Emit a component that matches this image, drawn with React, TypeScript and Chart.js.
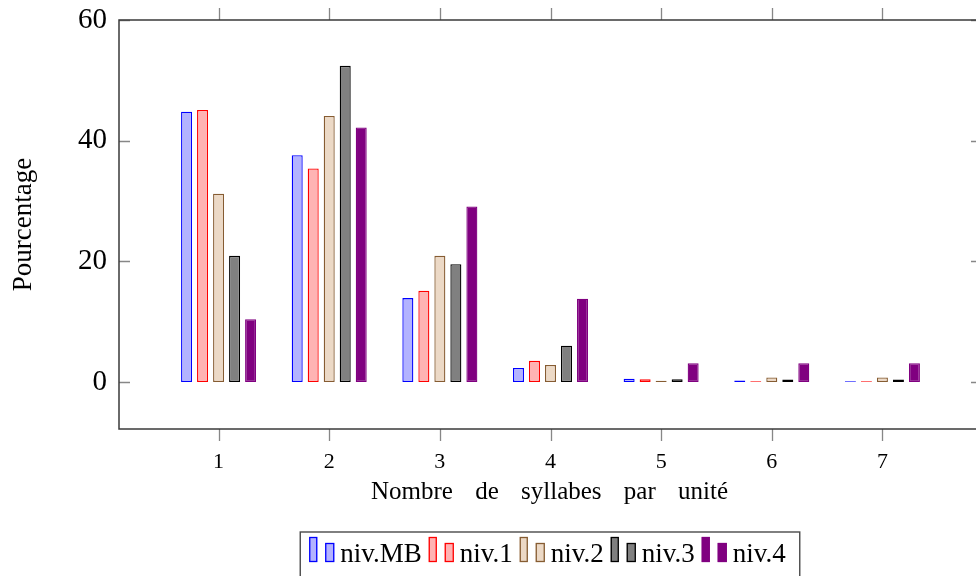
import React, { useEffect, useRef } from 'react';
import { Chart, registerables } from 'chart.js';

Chart.register(...registerables);

// ---- data ----
const categories = [1, 2, 3, 4, 5, 6, 7];
const seriesNames = ['niv.MB', 'niv.1', 'niv.2', 'niv.3', 'niv.4'];
const nivMB = [44.8, 37.6, 13.9, 2.3, 0.55, 0.25, 0.1];
const niv1 = [45.1, 35.4, 15.1, 3.5, 0.45, 0.1, 0.1];
const niv2 = [31.2, 44.1, 20.9, 2.8, 0.2, 0.75, 0.75];
const niv3 = [20.9, 52.4, 19.5, 6.0, 0.45, 0.4, 0.4];
const niv4 = [10.4, 42.2, 29.1, 13.8, 3.1, 3.1, 3.1];
const seriesValues = [nivMB, niv1, niv2, niv3, niv4];
const yTicks = [0, 20, 40, 60];
const xTitle = 'Nombre de syllabes par unité';
const yTitle = 'Pourcentage';

// ---- styles ----
const fills = ['rgb(179,179,255)', 'rgb(255,179,179)', 'rgb(236,217,198)', 'rgb(128,128,128)', 'rgb(128,0,128)'];
const borders = ['rgb(0,0,255)', 'rgb(255,0,0)', 'rgb(134,92,50)', 'rgb(0,0,0)', 'rgb(128,0,128)'];
const FONT = '"Liberation Serif", "Times New Roman", serif';

const decorPlugin = {
  id: 'decor',
  afterDraw(chart: any) {
    const { ctx, chartArea: ca, scales } = chart;
    const x = scales.x;
    const y = scales.y;
    ctx.save();
    // tick marks
    ctx.strokeStyle = 'rgba(105,105,105,0.8)';
    ctx.lineWidth = 1.3;
    ctx.beginPath();
    for (const v of yTicks) {
      const py = Math.round(y.getPixelForValue(v)) + 0.5;
      ctx.moveTo(ca.left, py);
      ctx.lineTo(ca.left + 11, py);
      ctx.moveTo(ca.right - 11, py);
      ctx.lineTo(ca.right, py);
    }
    for (const c of categories) {
      const px = Math.round(x.getPixelForValue(c)) + 0.5;
      ctx.moveTo(px, ca.top - 12);
      ctx.lineTo(px, ca.top);
      ctx.moveTo(px, ca.bottom);
      ctx.lineTo(px, ca.bottom + 12);
    }
    ctx.stroke();
    // axis box
    ctx.strokeStyle = '#3a3a3a';
    ctx.lineWidth = 1.5;
    ctx.strokeRect(ca.left, ca.top, ca.right - ca.left, ca.bottom - ca.top);

    // x title
    ctx.fillStyle = '#000';
    ctx.font = `25px ${FONT}`;
    ctx.textAlign = 'center';
    ctx.textBaseline = 'alphabetic';
    try { (ctx as any).wordSpacing = '16px'; } catch (e) {}
    ctx.fillText(xTitle, (ca.left + ca.right) / 2 - 1, 499);
    try { (ctx as any).wordSpacing = '0px'; } catch (e) {}

    // y title
    ctx.save();
    ctx.translate(31, (ca.top + ca.bottom) / 2);
    ctx.rotate(-Math.PI / 2);
    ctx.font = `27px ${FONT}`;
    ctx.textAlign = 'center';
    ctx.fillText(yTitle, 0, 0);
    ctx.restore();

    // legend
    ctx.font = `27px ${FONT}`;
    ctx.textAlign = 'left';
    const widths = seriesNames.map((n) => ctx.measureText(n).width);
    const gap = 7;
    const contentW = widths.reduce((a, w) => a + 31 + w, 0) + gap * (seriesNames.length - 1);
    let x0 = 547.5 - contentW / 2;
    const boxLeft = x0 - 9;
    const boxRight = x0 + contentW + 14;
    ctx.strokeStyle = '#4a4a4a';
    ctx.lineWidth = 1.4;
    ctx.strokeRect(boxLeft, 532, boxRight - boxLeft, 60);
    seriesNames.forEach((name, i) => {
      ctx.fillStyle = fills[i];
      ctx.strokeStyle = borders[i];
      ctx.lineWidth = 1.3;
      ctx.fillRect(x0, 537, 8, 25);
      ctx.strokeRect(x0 + 0.5, 537.5, 7, 24);
      ctx.fillRect(x0 + 16, 543, 9, 19);
      ctx.strokeRect(x0 + 16.5, 543.5, 8, 18);
      ctx.fillStyle = '#000';
      ctx.fillText(name, x0 + 31, 562);
      x0 += 31 + widths[i] + gap;
    });
    ctx.restore();
  },
};

export default function App() {
  const canvasRef = useRef<HTMLCanvasElement | null>(null);

  useEffect(() => {
    document.body.style.margin = '0';
    document.body.style.overflow = 'hidden';
    const canvas = canvasRef.current;
    if (!canvas) return;
    const chart = new Chart(canvas, {
      type: 'bar',
      data: {
        datasets: seriesNames.map((name, i) => ({
          label: name,
          data: categories.map((c, j) => ({ x: c, y: seriesValues[i][j] })),
          backgroundColor: fills[i],
          borderColor: borders[i],
          borderWidth: 1.3,
          borderSkipped: false,
          categoryPercentage: 0.7233,
          barPercentage: 0.6875,
        })),
      },
      options: {
        animation: false,
        responsive: false,
        devicePixelRatio: 1,
        layout: { padding: { top: 20, right: 8, left: 0, bottom: 0 } },
        plugins: {
          legend: { display: false },
          tooltip: { enabled: false },
          title: { display: false },
        },
        scales: {
          x: {
            type: 'linear',
            min: 0.1,
            max: 7.9,
            offset: false,
            grid: { display: false, drawTicks: false },
            border: { display: false },
            afterBuildTicks: (scale: any) => {
              scale.ticks = categories.map((c) => ({ value: c }));
            },
            afterFit: (scale: any) => {
              scale.height = 147;
              scale.paddingLeft = 0;
              scale.paddingRight = 0;
            },
            ticks: {
              font: { family: FONT, size: 22 },
              color: '#000',
              padding: 20,
              maxRotation: 0,
              autoSkip: false,
              callback: (v: any) => String(v),
            },
          },
          y: {
            type: 'linear',
            min: -7.8,
            max: 60,
            grid: { display: false, drawTicks: false },
            border: { display: false },
            afterBuildTicks: (scale: any) => {
              scale.ticks = yTicks.map((v) => ({ value: v }));
            },
            afterFit: (scale: any) => {
              scale.width = 119;
              scale.paddingTop = 0;
              scale.paddingBottom = 0;
            },
            ticks: {
              font: { family: FONT, size: 29 },
              color: '#000',
              padding: 12,
              callback: (v: any) => String(v),
            },
          },
        },
      },
      plugins: [decorPlugin],
    } as any);
    return () => chart.destroy();
  }, []);

  return (
    <div style={{ position: 'fixed', left: 0, top: 0, width: 976, height: 576, overflow: 'hidden', background: '#fff' }}>
      <canvas ref={canvasRef} width={990} height={576} style={{ display: 'block', width: 990, height: 576 }} />
    </div>
  );
}
